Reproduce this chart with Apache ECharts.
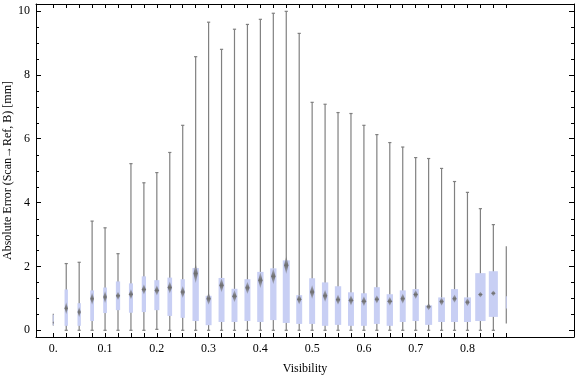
<!DOCTYPE html>
<html>
<head>
<meta charset="utf-8">
<script src="https://cdn.jsdelivr.net/npm/echarts@6/dist/echarts.min.js"></script>
<style>html,body{margin:0;padding:0;background:#fff}#c{width:576px;height:377px}</style>
</head>
<body>
<div id="c"></div>
<script>
// ---- data ----
const visibility = [0, 0.025, 0.05, 0.075, 0.1, 0.125, 0.15, 0.175, 0.2, 0.225, 0.25, 0.275,
  0.3, 0.325, 0.35, 0.375, 0.4, 0.425, 0.45, 0.475, 0.5, 0.525, 0.55, 0.575,
  0.6, 0.625, 0.65, 0.675, 0.7, 0.725, 0.75, 0.775, 0.8, 0.825, 0.85, 0.875];
const whiskerMin = [0.15, 0, 0, 0, 0, 0, 0, 0, 0.03, 0, 0, 0,
  0, 0, 0, 0, 0, 0, 0, 0, 0, 0, 0, 0,
  0, 0, 0, 0, 0, 0, 0, 0, 0, 0, 0, 0.21];
const quartile1 = [0.16, 0.14, 0.14, 0.29, 0.54, 0.63, 0.55, 0.57, 0.63, 0.45, 0.39, 0.29,
  0.16, 0.26, 0.26, 0.29, 0.26, 0.32, 0.23, 0.20, 0.20, 0.14, 0.17, 0.14,
  0.14, 0.20, 0.14, 0.26, 0.29, 0.17, 0.26, 0.26, 0.26, 0.29, 0.42, 0.68];
const medians = [0.24, 0.69, 0.57, 0.99, 1.04, 1.08, 1.13, 1.28, 1.25, 1.34, 1.20, 1.78,
  0.99, 1.41, 1.07, 1.33, 1.57, 1.69, 2.04, 0.97, 1.20, 1.08, 0.96, 0.94,
  0.91, 0.97, 0.91, 0.99, 1.12, 0.74, 0.90, 0.99, 0.88, 1.12, 1.16, 0.85];
const quartile3 = [0.49, 1.28, 0.85, 1.25, 1.34, 1.53, 1.47, 1.69, 1.57, 1.65, 1.60, 1.95,
  1.08, 1.64, 1.30, 1.60, 1.83, 1.94, 2.19, 1.10, 1.63, 1.50, 1.38, 1.19,
  1.16, 1.35, 1.13, 1.25, 1.29, 0.78, 1.03, 1.29, 1.03, 1.79, 1.85, 1.07];
const whiskerMax = [0.52, 2.09, 2.13, 3.42, 3.21, 2.40, 5.22, 4.62, 4.94, 5.57, 6.42, 8.57,
  9.65, 8.80, 9.43, 9.58, 9.74, 9.93, 9.99, 9.30, 7.14, 7.08, 6.82, 6.79,
  6.42, 6.13, 5.88, 5.74, 5.41, 5.38, 5.07, 4.66, 4.32, 3.81, 3.31, 2.63];
// relative box weight (fraction of category spacing)
const boxWeight = [0.08, 0.26, 0.26, 0.29, 0.29, 0.33, 0.31, 0.33, 0.39, 0.36, 0.33, 0.49,
  0.46, 0.46, 0.46, 0.46, 0.49, 0.49, 0.54, 0.46, 0.46, 0.49, 0.49, 0.46,
  0.46, 0.46, 0.49, 0.46, 0.49, 0.54, 0.52, 0.54, 0.54, 0.80, 0.70, 0.08];
// half-extent of the median marker (median confidence interval)
const medianCI = [0.06, 0.19, 0.16, 0.19, 0.19, 0.13, 0.16, 0.16, 0.16, 0.19, 0.19, 0.31,
  0.19, 0.22, 0.19, 0.19, 0.25, 0.25, 0.28, 0.16, 0.22, 0.19, 0.16, 0.16,
  0.16, 0.13, 0.14, 0.16, 0.14, 0.11, 0.13, 0.13, 0.13, 0.09, 0.09, 0];
const xLabelValues = [0, 0.1, 0.2, 0.3, 0.4, 0.5, 0.6, 0.7, 0.8];
const xLabelTexts = ['0.', '0.1', '0.2', '0.3', '0.4', '0.5', '0.6', '0.7', '0.8'];
const yMajor = [0, 2, 4, 6, 8, 10];
const yMinor = [0.5, 1, 1.5, 2.5, 3, 3.5, 4.5, 5, 5.5, 6.5, 7, 7.5, 8.5, 9, 9.5];
const CAT_STEP = 0.025;

// ---- build ----
const rows = visibility.map((v, i) => [v, whiskerMin[i], quartile1[i], medians[i], quartile3[i], whiskerMax[i], boxWeight[i], medianCI[i]]);
const minorRows = yMinor.map(v => [0, v]);

const FONT = "'Liberation Serif', 'DejaVu Serif', serif";
const WHISK = '#808080';
const BOX = '#c8cff4';

function renderItem(params, api) {
  const x = api.value(0);
  const lo = api.value(1), q1 = api.value(2), med = api.value(3), q3 = api.value(4), hi = api.value(5);
  const w = api.value(6), ci = api.value(7);
  const pLo = api.coord([x, lo]), pHi = api.coord([x, hi]);
  const pQ1 = api.coord([x, q1]), pQ3 = api.coord([x, q3]);
  const pM = api.coord([x, med]);
  const bw = api.size([CAT_STEP * w, 0])[0];
  const cx = pLo[0];
  const children = [];
  children.push({ type: 'line', shape: { x1: cx, y1: pLo[1], x2: cx, y2: pHi[1] },
    style: { stroke: WHISK, lineWidth: 1.2 } });
  if (w > 0.1) {
    [pLo[1], pHi[1]].forEach(yy => children.push({ type: 'line',
      shape: { x1: cx - 1.6, y1: yy, x2: cx + 1.6, y2: yy }, style: { stroke: WHISK, lineWidth: 1.2 } }));
  }
  children.push({ type: 'rect', shape: { x: cx - bw / 2, y: pQ3[1], width: bw, height: pQ1[1] - pQ3[1] },
    style: { fill: BOX } });
  if (ci > 0) {
    const hpx = Math.abs(api.size([0, ci])[1]);
    const hw = Math.min(2.2, bw / 2);
    children.push({ type: 'polygon', shape: { points: [[cx, pM[1] - hpx], [cx + hw, pM[1]], [cx, pM[1] + hpx], [cx - hw, pM[1]]] },
      style: { fill: {
        type: 'linear', x: 0, y: 0, x2: 0, y2: 1,
        colorStops: [{ offset: 0, color: 'rgba(120,120,120,0.4)' }, { offset: 0.5, color: 'rgba(110,110,110,1)' }, { offset: 1, color: 'rgba(120,120,120,0.4)' }]
      } } });
  }
  return { type: 'group', children };
}

// minor y ticks on both frame sides, positioned through the y scale
function renderMinorTick(params, api) {
  const cs = params.coordSys;
  const y = Math.round(api.coord([0, api.value(1)])[1]) + 0.5;
  const len = 3;
  return { type: 'group', children: [
    { type: 'line', shape: { x1: cs.x, y1: y, x2: cs.x + len, y2: y }, style: { stroke: '#000', lineWidth: 1 } },
    { type: 'line', shape: { x1: cs.x + cs.width - len, y1: y, x2: cs.x + cs.width, y2: y }, style: { stroke: '#000', lineWidth: 1 } }
  ] };
}

const X_MIN = -0.0334, X_MAX = 1.0058, Y_MIN = -0.21, Y_MAX = 10.22;
const lineStyle = { color: '#000', width: 1 };

const option = {
  animation: false,
  backgroundColor: '#fff',
  grid: { left: 36, right: 2, top: 4, bottom: 40, containLabel: false, outerBoundsMode: 'none' },
  xAxis: [
    { type: 'value', position: 'bottom', min: X_MIN, max: X_MAX,
      axisLine: { show: true, onZero: false, lineStyle },
      axisTick: { show: true, inside: true, length: 4, customValues: visibility, lineStyle },
      axisLabel: { show: true, customValues: xLabelValues, margin: 6, color: '#000', fontFamily: FONT, fontSize: 12,
        formatter: v => { const i = xLabelValues.findIndex(t => Math.abs(t - v) < 1e-9); return i >= 0 ? xLabelTexts[i] : ''; } },
      splitLine: { show: false },
      name: 'Visibility', nameLocation: 'middle', nameGap: 26, nameMoveOverlap: false,
      nameTextStyle: { color: '#000', fontFamily: FONT, fontSize: 12 } },
    { type: 'value', position: 'top', min: X_MIN, max: X_MAX,
      axisLine: { show: true, onZero: false, lineStyle },
      axisTick: { show: true, inside: true, length: 4, customValues: visibility, lineStyle },
      axisLabel: { show: false }, splitLine: { show: false } }
  ],
  yAxis: [
    { type: 'value', position: 'left', min: Y_MIN, max: Y_MAX,
      axisLine: { show: true, onZero: false, lineStyle },
      axisTick: { show: true, inside: true, length: 5, customValues: yMajor, lineStyle },
      axisLabel: { show: true, customValues: yMajor, margin: 6, color: '#000', fontFamily: FONT, fontSize: 12 },
      splitLine: { show: false },
      name: 'Absolute Error (Scan\u2192Ref, B) [mm]', nameLocation: 'middle', nameGap: 22, nameRotate: 90,
      nameMoveOverlap: false,
      nameTextStyle: { color: '#000', fontFamily: FONT, fontSize: 12 } },
    { type: 'value', position: 'right', min: Y_MIN, max: Y_MAX,
      axisLine: { show: true, onZero: false, lineStyle },
      axisTick: { show: true, inside: true, length: 5, customValues: yMajor, lineStyle },
      axisLabel: { show: false }, splitLine: { show: false } }
  ],
  series: [
    { type: 'custom', xAxisIndex: 0, yAxisIndex: 0,
      renderItem, data: rows, clip: false,
      encode: { x: 0, y: [1, 5] } },
    { type: 'custom', xAxisIndex: 0, yAxisIndex: 0, silent: true,
      renderItem: renderMinorTick, data: minorRows, clip: false,
      encode: { x: 0, y: 1 } }
  ]
};

const chart = echarts.init(document.getElementById('c'), null, { renderer: 'canvas' });
chart.setOption(option);
</script>
</body>
</html>
